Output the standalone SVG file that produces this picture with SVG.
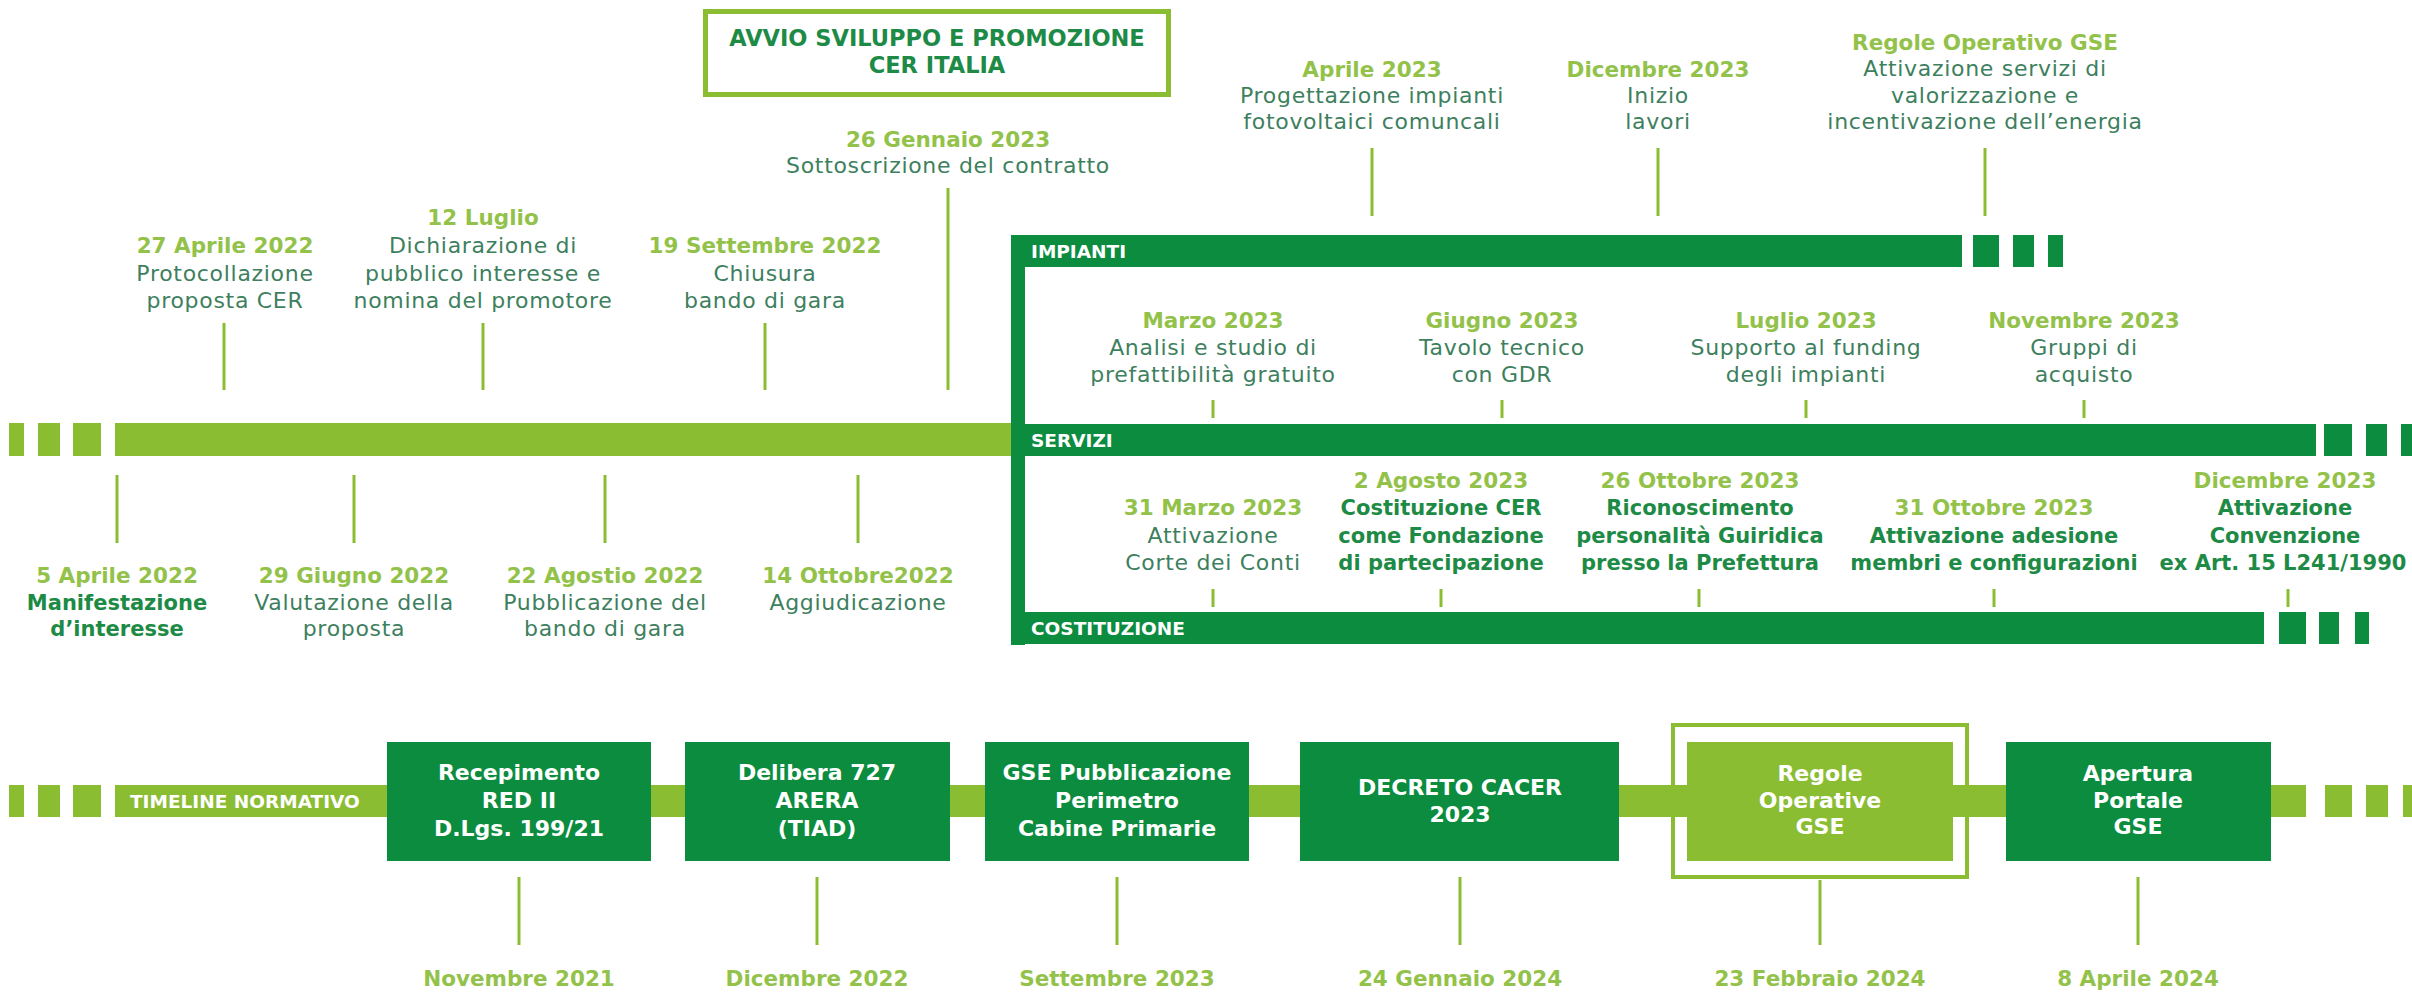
<svg xmlns="http://www.w3.org/2000/svg" width="2412" height="994" viewBox="0 0 2412 994">
<style>
text{font-family:"DejaVu Sans","Open Sans",sans-serif;text-anchor:middle}
.d{font-weight:700;font-size:21.5px;fill:#93c24a}
.r{font-weight:400;font-size:22px;letter-spacing:0.7px;fill:#3e7f5e}
.b{font-weight:700;font-size:21px;fill:#1d8a45}
.w{font-weight:700;font-size:22px;fill:#ffffff}
.lbl{font-weight:700;font-size:18.5px;fill:#ffffff;text-anchor:start}
.t{font-weight:700;font-size:22.5px;fill:#1d8a45}
.lg{fill:#8bbd33}
.dg{fill:#0b8c3f}
.tick{stroke:#8bbd33;stroke-width:3;fill:none}
</style>
<rect width="2412" height="994" fill="#ffffff"/>

<g id="timelines">
  <rect class="lg" x="9" y="423" width="15" height="33"/>
  <rect class="lg" x="38" y="423" width="22" height="33"/>
  <rect class="lg" x="73" y="423" width="28" height="33"/>
  <rect class="lg" x="115" y="423" width="900" height="33"/>
  <rect class="dg" x="1011" y="235" width="14" height="410"/>
  <rect class="dg" x="1011" y="235" width="951" height="32"/>
  <rect class="dg" x="1973" y="235" width="26" height="32"/>
  <rect class="dg" x="2013" y="235" width="21" height="32"/>
  <rect class="dg" x="2048" y="235" width="15" height="32"/>
  <rect class="dg" x="1011" y="424" width="1305" height="32"/>
  <rect class="dg" x="2324" y="424" width="28" height="32"/>
  <rect class="dg" x="2366" y="424" width="21" height="32"/>
  <rect class="dg" x="2401" y="424" width="11" height="32"/>
  <rect class="dg" x="1011" y="612" width="1253" height="32"/>
  <rect class="dg" x="2279" y="612" width="27" height="32"/>
  <rect class="dg" x="2319" y="612" width="20" height="32"/>
  <rect class="dg" x="2355" y="612" width="14" height="32"/>
  <text class="lbl" x="1031" y="258">IMPIANTI</text>
  <text class="lbl" x="1031" y="447">SERVIZI</text>
  <text class="lbl" x="1031" y="635">COSTITUZIONE</text>
  <rect class="lg" x="9" y="785" width="15" height="32"/>
  <rect class="lg" x="38" y="785" width="22" height="32"/>
  <rect class="lg" x="73" y="785" width="28" height="32"/>
  <rect class="lg" x="115" y="785" width="2191" height="32"/>
  <rect class="lg" x="2325" y="785" width="27" height="32"/>
  <rect class="lg" x="2366" y="785" width="22" height="32"/>
  <rect class="lg" x="2403" y="785" width="9" height="32"/>
  <text class="lbl" x="130" y="808">TIMELINE NORMATIVO</text>
</g>

<g id="connectors">
  <line class="tick" x1="224" y1="323" x2="224" y2="390"/>
  <line class="tick" x1="483" y1="323" x2="483" y2="390"/>
  <line class="tick" x1="765" y1="323" x2="765" y2="390"/>
  <line class="tick" x1="948" y1="188" x2="948" y2="390"/>
  <line class="tick" x1="117" y1="475" x2="117" y2="543"/>
  <line class="tick" x1="354" y1="475" x2="354" y2="543"/>
  <line class="tick" x1="605" y1="475" x2="605" y2="543"/>
  <line class="tick" x1="858" y1="475" x2="858" y2="543"/>
  <line class="tick" x1="1372" y1="148" x2="1372" y2="216"/>
  <line class="tick" x1="1658" y1="148" x2="1658" y2="216"/>
  <line class="tick" x1="1985" y1="148" x2="1985" y2="216"/>
  <line class="tick" x1="1213" y1="400" x2="1213" y2="418"/>
  <line class="tick" x1="1502" y1="400" x2="1502" y2="418"/>
  <line class="tick" x1="1806" y1="400" x2="1806" y2="418"/>
  <line class="tick" x1="2084" y1="400" x2="2084" y2="418"/>
  <line class="tick" x1="1213" y1="589" x2="1213" y2="607"/>
  <line class="tick" x1="1441" y1="589" x2="1441" y2="607"/>
  <line class="tick" x1="1699" y1="589" x2="1699" y2="607"/>
  <line class="tick" x1="1994" y1="589" x2="1994" y2="607"/>
  <line class="tick" x1="2288" y1="589" x2="2288" y2="607"/>
  <line class="tick" x1="519" y1="877" x2="519" y2="945"/>
  <line class="tick" x1="817" y1="877" x2="817" y2="945"/>
  <line class="tick" x1="1117" y1="877" x2="1117" y2="945"/>
  <line class="tick" x1="1460" y1="877" x2="1460" y2="945"/>
  <line class="tick" x1="1820" y1="880" x2="1820" y2="945"/>
  <line class="tick" x1="2138" y1="877" x2="2138" y2="945"/>
</g>

<g id="title">
  <rect x="705.5" y="11.5" width="463" height="83" fill="none" stroke="#8bbd33" stroke-width="5"/>
  <text class="t"><tspan x="937" y="46">AVVIO SVILUPPO E PROMOZIONE</tspan><tspan x="937" y="73">CER ITALIA</tspan></text>
</g>

<g id="ev-27apr2022">
  <text><tspan class="d" x="225" y="253">27 Aprile 2022</tspan><tspan class="r" x="225" y="281">Protocollazione</tspan><tspan class="r" x="225" y="308">proposta CER</tspan></text>
</g>
<g id="ev-12lug">
  <text><tspan class="d" x="483" y="225">12 Luglio</tspan><tspan class="r" x="483" y="253">Dichiarazione di</tspan><tspan class="r" x="483" y="281">pubblico interesse e</tspan><tspan class="r" x="483" y="308">nomina del promotore</tspan></text>
</g>
<g id="ev-19set2022">
  <text><tspan class="d" x="765" y="253">19 Settembre 2022</tspan><tspan class="r" x="765" y="281">Chiusura</tspan><tspan class="r" x="765" y="308">bando di gara</tspan></text>
</g>
<g id="ev-26gen2023">
  <text><tspan class="d" x="948" y="147">26 Gennaio 2023</tspan><tspan class="r" x="948" y="173">Sottoscrizione del contratto</tspan></text>
</g>

<g id="ev-5apr2022">
  <text><tspan class="d" x="117" y="583">5 Aprile 2022</tspan><tspan class="b" x="117" y="610">Manifestazione</tspan><tspan class="b" x="117" y="636">d’interesse</tspan></text>
</g>
<g id="ev-29giu2022">
  <text><tspan class="d" x="354" y="583">29 Giugno 2022</tspan><tspan class="r" x="354" y="610">Valutazione della</tspan><tspan class="r" x="354" y="636">proposta</tspan></text>
</g>
<g id="ev-22ago2022">
  <text><tspan class="d" x="605" y="583">22 Agostio 2022</tspan><tspan class="r" x="605" y="610">Pubblicazione del</tspan><tspan class="r" x="605" y="636">bando di gara</tspan></text>
</g>
<g id="ev-14ott2022">
  <text><tspan class="d" x="858" y="583">14 Ottobre2022</tspan><tspan class="r" x="858" y="610">Aggiudicazione</tspan></text>
</g>

<g id="ev-apr2023">
  <text><tspan class="d" x="1372" y="77">Aprile 2023</tspan><tspan class="r" x="1372" y="103">Progettazione impianti</tspan><tspan class="r" x="1372" y="129">fotovoltaici comuncali</tspan></text>
</g>
<g id="ev-dic2023-lavori">
  <text><tspan class="d" x="1658" y="77">Dicembre 2023</tspan><tspan class="r" x="1658" y="103">Inizio</tspan><tspan class="r" x="1658" y="129">lavori</tspan></text>
</g>
<g id="ev-regole-gse">
  <text><tspan class="d" x="1985" y="50">Regole Operativo GSE</tspan><tspan class="r" x="1985" y="76">Attivazione servizi di</tspan><tspan class="r" x="1985" y="103">valorizzazione e</tspan><tspan class="r" x="1985" y="129">incentivazione dell’energia</tspan></text>
</g>

<g id="ev-mar2023">
  <text><tspan class="d" x="1213" y="328">Marzo 2023</tspan><tspan class="r" x="1213" y="355">Analisi e studio di</tspan><tspan class="r" x="1213" y="382">prefattibilità gratuito</tspan></text>
</g>
<g id="ev-giu2023">
  <text><tspan class="d" x="1502" y="328">Giugno 2023</tspan><tspan class="r" x="1502" y="355">Tavolo tecnico</tspan><tspan class="r" x="1502" y="382">con GDR</tspan></text>
</g>
<g id="ev-lug2023">
  <text><tspan class="d" x="1806" y="328">Luglio 2023</tspan><tspan class="r" x="1806" y="355">Supporto al funding</tspan><tspan class="r" x="1806" y="382">degli impianti</tspan></text>
</g>
<g id="ev-nov2023">
  <text><tspan class="d" x="2084" y="328">Novembre 2023</tspan><tspan class="r" x="2084" y="355">Gruppi di</tspan><tspan class="r" x="2084" y="382">acquisto</tspan></text>
</g>

<g id="ev-31mar2023">
  <text><tspan class="d" x="1213" y="515">31 Marzo 2023</tspan><tspan class="r" x="1213" y="543">Attivazione</tspan><tspan class="r" x="1213" y="570">Corte dei Conti</tspan></text>
</g>
<g id="ev-2ago2023">
  <text><tspan class="d" x="1441" y="488">2 Agosto 2023</tspan><tspan class="b" x="1441" y="515">Costituzione CER</tspan><tspan class="b" x="1441" y="543">come Fondazione</tspan><tspan class="b" x="1441" y="570">di partecipazione</tspan></text>
</g>
<g id="ev-26ott2023">
  <text><tspan class="d" x="1700" y="488">26 Ottobre 2023</tspan><tspan class="b" x="1700" y="515">Riconoscimento</tspan><tspan class="b" x="1700" y="543">personalità Guiridica</tspan><tspan class="b" x="1700" y="570">presso la Prefettura</tspan></text>
</g>
<g id="ev-31ott2023">
  <text><tspan class="d" x="1994" y="515">31 Ottobre 2023</tspan><tspan class="b" x="1994" y="543">Attivazione adesione</tspan><tspan class="b" x="1994" y="570">membri e configurazioni</tspan></text>
</g>
<g id="ev-dic2023-conv">
  <text><tspan class="d" x="2285" y="488">Dicembre 2023</tspan><tspan class="b" x="2285" y="515">Attivazione</tspan><tspan class="b" x="2285" y="543">Convenzione</tspan><tspan class="b" x="2283" y="570">ex Art. 15 L241/1990</tspan></text>
</g>

<g id="norm-red2">
  <rect class="dg" x="387" y="742" width="264" height="119"/>
  <text class="w"><tspan x="519" y="780">Recepimento</tspan><tspan x="519" y="808">RED II</tspan><tspan x="519" y="836">D.Lgs. 199/21</tspan></text>
  <text class="d" x="519" y="986">Novembre 2021</text>
</g>
<g id="norm-delibera">
  <rect class="dg" x="685" y="742" width="265" height="119"/>
  <text class="w"><tspan x="817" y="780">Delibera 727</tspan><tspan x="817" y="808">ARERA</tspan><tspan x="817" y="836">(TIAD)</tspan></text>
  <text class="d" x="817" y="986">Dicembre 2022</text>
</g>
<g id="norm-gse-perimetro">
  <rect class="dg" x="985" y="742" width="264" height="119"/>
  <text class="w"><tspan x="1117" y="780">GSE Pubblicazione</tspan><tspan x="1117" y="808">Perimetro</tspan><tspan x="1117" y="836">Cabine Primarie</tspan></text>
  <text class="d" x="1117" y="986">Settembre 2023</text>
</g>
<g id="norm-decreto">
  <rect class="dg" x="1300" y="742" width="319" height="119"/>
  <text class="w"><tspan x="1460" y="795">DECRETO CACER</tspan><tspan x="1460" y="822">2023</tspan></text>
  <text class="d" x="1460" y="986">24 Gennaio 2024</text>
</g>
<g id="norm-regole">
  <rect x="1673" y="725" width="294" height="152" fill="none" stroke="#8bbd33" stroke-width="4"/>
  <rect class="lg" x="1687" y="742" width="266" height="119"/>
  <text class="w"><tspan x="1820" y="781">Regole</tspan><tspan x="1820" y="808">Operative</tspan><tspan x="1820" y="834">GSE</tspan></text>
  <text class="d" x="1820" y="986">23 Febbraio 2024</text>
</g>
<g id="norm-portale">
  <rect class="dg" x="2006" y="742" width="265" height="119"/>
  <text class="w"><tspan x="2138" y="781">Apertura</tspan><tspan x="2138" y="808">Portale</tspan><tspan x="2138" y="834">GSE</tspan></text>
  <text class="d" x="2138" y="986">8 Aprile 2024</text>
</g>
</svg>
